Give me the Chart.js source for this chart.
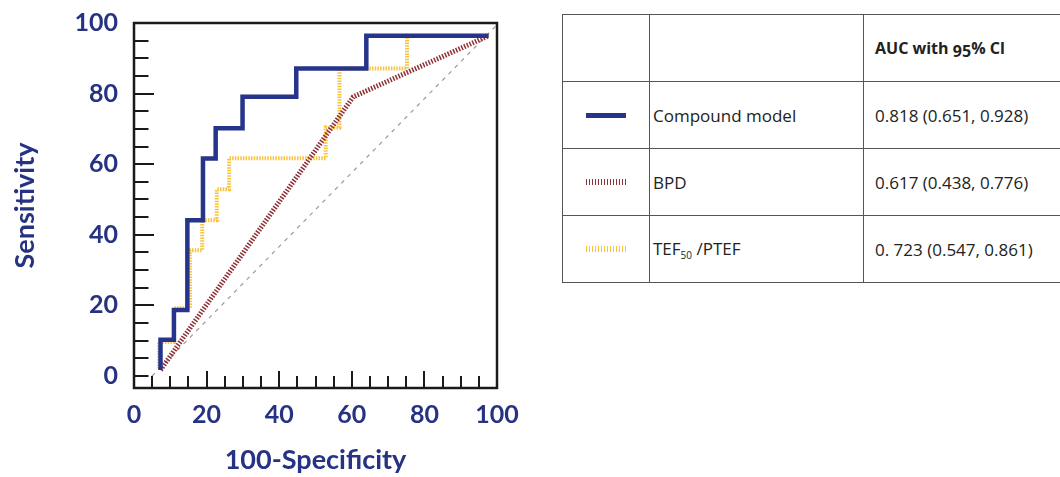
<!DOCTYPE html>
<html>
<head>
<meta charset="utf-8">
<script src="https://cdn.jsdelivr.net/npm/chart.js@4/dist/chart.umd.min.js"></script>
<style>
    body { margin: 0; width: 1060px; height: 477px; overflow: hidden; background: #fff; position: relative; }
    #chartBox { position: absolute; left: 0; top: 0; width: 540px; height: 477px; }
    table.auc { position: absolute; left: 562px; top: 14px; width: 531px; border-collapse: collapse; table-layout: fixed;
        font-family: "Open Sans", sans-serif; font-size: 17px; color: #222; }
    table.auc td { border: 1px solid #555; padding: 0; height: 66px; vertical-align: middle; white-space: nowrap; }
    table.auc td.name { padding-left: 3px; }
    table.auc td.val { padding-left: 11px; }
    table.auc td.head { font-weight: bold; font-size: 16px; font-variant-numeric: oldstyle-nums; }
    .swatch { display: block; width: 40px; margin-left: 23px; }
    sub { font-size: 10px; vertical-align: -4px; }
</style>
</head>
<body>
<div id="chartBox"><canvas id="roc" width="540" height="477"></canvas></div>
<table class="auc" id="aucTable">
    <colgroup><col style="width:87px"><col style="width:214px"><col style="width:230px"></colgroup>
</table>
<script>
// ROC curves (x = 100-Specificity, y = Sensitivity)
const compoundX = [7.3, 7.3, 11, 11, 14.7, 14.7, 19, 19, 22.5, 22.5, 29.9, 29.9, 44.7, 44.7, 64, 64, 97.7];
const compoundY = [1.7, 10.3, 10.3, 18.7, 18.7, 44.1, 44.1, 61.6, 61.6, 70.2, 70.2, 79.1, 79.1, 87.1, 87.1, 96.4, 96.4];

const bpdX = [7.3, 60.4, 97.7];
const bpdY = [1.7, 79.1, 96.4];

const tefX = [6.9, 6.9, 11, 11, 15.4, 15.4, 18.8, 18.8, 22.8, 22.8, 26.2, 26.2, 52.8, 52.8, 56.6, 56.6, 75.2, 75.2, 97.7];
const tefY = [2.1, 9.6, 9.6, 19.2, 19.2, 35.6, 35.6, 44.1, 44.1, 52.9, 52.9, 61.7, 61.7, 70.4, 70.4, 87.1, 87.1, 96.4, 96.4];

const refX = [5, 100];
const refY = [0, 99.5];

const xTickValues = [0, 20, 40, 60, 80, 100];
const yTickValues = [0, 20, 40, 60, 80, 100];
const xMarkValues = [5, 10, 15, 20, 25, 30, 35, 40, 45, 50, 55, 60, 65, 70, 75, 80, 85, 90, 95];
const yMarkValues = [0, 5, 10, 15, 20, 25, 30, 35, 40, 45, 50, 55, 60, 65, 70, 75, 80, 85, 90, 95];
const majorMarks = [20, 40, 60, 80];

// table
const modelNames = ['Compound model', 'BPD', 'TEF<sub>50</sub> /PTEF'];
const aucTexts = ['0.818 (0.651, 0.928)', '0.617 (0.438, 0.776)', '0. 723 (0.547, 0.861)'];
const swatchStyles = [
    'height:5px;background:#27348b',
    'height:6px;background:repeating-linear-gradient(90deg,#8e3035 0 1.5px,transparent 1.5px 3px)',
    'height:6px;background:repeating-linear-gradient(90deg,#f7c23e 0 1.5px,transparent 1.5px 3px)'
];

const navy = '#263282';

function buildTable() {
    const table = document.getElementById('aucTable');
    let html = '<tr><td></td><td></td><td class="val head">AUC with 95% Cl</td></tr>';
    for (let i = 0; i < modelNames.length; i++) {
        html += `<tr><td><span class="swatch" style="${swatchStyles[i]}"></span></td>` +
            `<td class="name">${modelNames[i]}</td><td class="val">${aucTexts[i]}</td></tr>`;
    }
    table.insertAdjacentHTML('beforeend', html);
}

const pts = (xs, ys) => xs.map((x, i) => ({x: x, y: ys[i]}));

// frame box plus inward tick marks, placed with the scales
const framePlugin = {
    id: 'frame',
    afterDatasetsDraw(chart) {
        const {ctx, chartArea: a, scales: {x, y}} = chart;
        ctx.save();
        ctx.strokeStyle = '#1a1a1a';
        ctx.lineWidth = 2;
        xMarkValues.forEach(v => {
            const px = Math.round(x.getPixelForValue(v));
            const len = majorMarks.includes(v) ? 17 : 12;
            ctx.beginPath();
            ctx.moveTo(px, a.bottom);
            ctx.lineTo(px, a.bottom - len);
            ctx.stroke();
        });
        yMarkValues.forEach(v => {
            const py = Math.round(y.getPixelForValue(v));
            const len = majorMarks.includes(v) ? 20 : 14.5;
            ctx.beginPath();
            ctx.moveTo(a.left, py);
            ctx.lineTo(a.left + len, py);
            ctx.stroke();
        });
        ctx.lineWidth = 2.5;
        ctx.strokeRect(a.left, a.top, a.right - a.left, a.bottom - a.top);
        ctx.restore();
    }
};

const axisFont = {family: 'Lato', weight: 'bold', size: 25};

buildTable();

new Chart(document.getElementById('roc'), {
    type: 'line',
    data: {
        datasets: [
            {label: 'Compound model', data: pts(compoundX, compoundY), borderColor: '#27348b', borderWidth: 4.5},
            {label: 'BPD', data: pts(bpdX, bpdY), borderColor: '#8e3035', borderWidth: 5, borderDash: [1.5, 1.5]},
            {label: 'TEF50/PTEF', data: pts(tefX, tefY), borderColor: '#f7c23e', borderWidth: 4, borderDash: [1.5, 1.2]},
            {label: 'Reference', data: pts(refX, refY), borderColor: '#9a9a9a', borderWidth: 1.2, borderDash: [4, 5]}
        ]
    },
    options: {
        responsive: false,
        animation: false,
        devicePixelRatio: 1,
        elements: {point: {radius: 0}, line: {tension: 0, borderCapStyle: 'butt', borderJoinStyle: 'miter'}},
        layout: {padding: {top: 20, right: 43, left: 0, bottom: 0}},
        plugins: {legend: {display: false}, tooltip: {enabled: false}},
        scales: {
            x: {
                type: 'linear', min: 0, max: 100,
                grid: {display: false}, border: {display: false},
                afterBuildTicks: s => { s.ticks = xTickValues.map(v => ({value: v})); },
                afterFit: s => { s.height = 89; },
                ticks: {color: navy, font: axisFont, padding: 4, maxRotation: 0, autoSkip: false},
                title: {display: true, text: '100-Specificity', color: navy,
                    font: {family: 'Lato', weight: 'bold', size: 27}, padding: {top: 0, bottom: 1}}
            },
            y: {
                type: 'linear', min: -3.4, max: 100,
                grid: {display: false}, border: {display: false},
                afterBuildTicks: s => { s.ticks = yTickValues.map(v => ({value: v})); },
                afterFit: s => { s.width = 134; },
                ticks: {color: navy, font: axisFont, padding: 8, autoSkip: false},
                title: {display: true, text: 'Sensitivity', color: navy,
                    font: {family: 'Lato', weight: 'bold', size: 27}, padding: {top: 9, bottom: 0}}
            }
        }
    },
    plugins: [framePlugin]
});
</script>
</body>
</html>
